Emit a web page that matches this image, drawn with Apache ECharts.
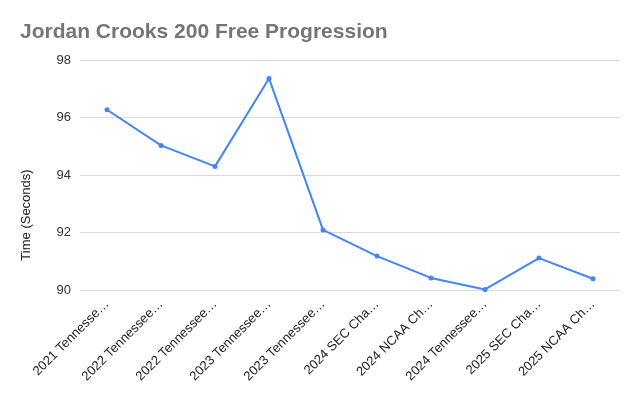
<!DOCTYPE html>
<html><head><meta charset="utf-8">
<script src="https://cdn.jsdelivr.net/npm/echarts@6/dist/echarts.min.js"></script>
<style>html,body{margin:0;padding:0;background:#fff}#c{width:640px;height:396px}</style>
</head><body><div id="c"></div>
<script>
const categories = ["2021 Tennesse…","2022 Tennessee…","2022 Tennessee…","2023 Tennessee…","2023 Tennessee…","2024 SEC Cha…","2024 NCAA Ch…","2024 Tennessee…","2025 SEC Cha…","2025 NCAA Ch…"];
const times = [96.27, 95.03, 94.30, 97.36, 92.09, 91.18, 90.42, 90.02, 91.11, 90.39];
const yTicks = { min: 90, max: 98, interval: 2 };
const chart = echarts.init(document.getElementById('c'));
chart.setOption({
  animation: false,
  title: { text: 'Jordan Crooks 200 Free Progression', left: 15, top: 17,
    textStyle: { fontFamily: 'Liberation Sans', fontSize: 21, fontWeight: 'bold', color: '#757575' } },
  graphic: [{ type: 'text', x: 20, y: 215, rotation: Math.PI / 2,
    style: { text: 'Time (Seconds)', font: '13px "Liberation Sans"', fill: '#222', align: 'center', verticalAlign: 'top' } }],
  grid: { left: 80, right: 20, top: 60, bottom: 106 },
  xAxis: { type: 'category', data: categories, boundaryGap: true,
    axisLine: { show: false }, axisTick: { show: false },
    axisLabel: { rotate: 45, interval: 0, margin: 12, fontFamily: 'Liberation Sans', fontSize: 13, color: '#222' } },
  yAxis: { type: 'value', min: yTicks.min, max: yTicks.max, interval: yTicks.interval,
    axisLabel: { fontFamily: 'Liberation Sans', fontSize: 13, color: '#333', margin: 9 },
    splitLine: { lineStyle: { color: '#d9d9d9', width: 1 } },
    axisLine: { show: false }, axisTick: { show: false } },
  series: [{ type: 'line', data: times, symbol: 'circle', symbolSize: 5,
    lineStyle: { color: '#4285f4', width: 2 }, itemStyle: { color: '#4285f4' } }]
});
</script></body></html>
